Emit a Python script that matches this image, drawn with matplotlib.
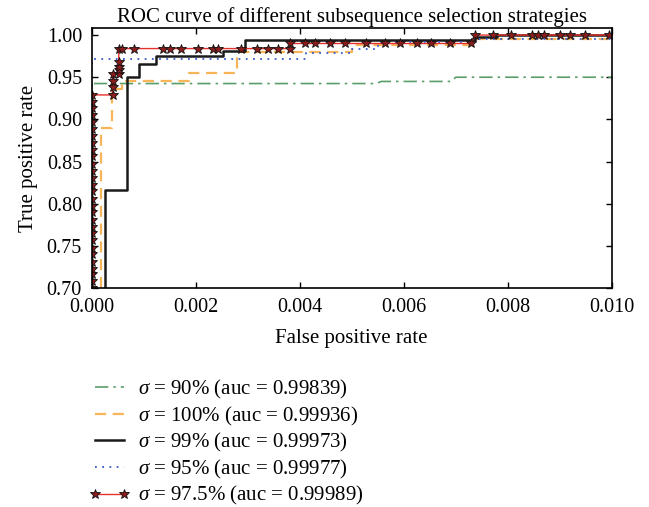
import numpy as np
import matplotlib
matplotlib.use("Agg")
import matplotlib.pyplot as plt

plt.rcParams["font.family"] = ["Liberation Serif", "DejaVu Serif"]
plt.rcParams["mathtext.fontset"] = "custom"
plt.rcParams["mathtext.it"] = "Liberation Serif:italic"
plt.rcParams["mathtext.rm"] = "Liberation Serif"

# ROC points (fpr, tpr)
fpr_90 = [0.0, 0.0, 0.00547, 0.00557, 0.00692, 0.00700, 0.0100]
tpr_90 = [0.70, 0.9425, 0.9425, 0.945, 0.945, 0.950, 0.950]

fpr_100 = [0.00017, 0.00017, 0.00039, 0.00039, 0.00059, 0.00059, 0.00188, 0.00188,
           0.0028, 0.0028, 0.0050, 0.0050, 0.0074, 0.0074, 0.0100]
tpr_100 = [0.70, 0.890, 0.890, 0.9365, 0.9365, 0.9452, 0.9452, 0.9552,
           0.9552, 0.9794, 0.9794, 0.988, 0.988, 0.995, 0.995]

fpr_99 = [0.00026, 0.00026, 0.00067, 0.00067, 0.00091, 0.00091, 0.00124, 0.00124,
          0.00253, 0.00253, 0.00294, 0.00294, 0.00737, 0.00737, 0.0078, 0.0078, 0.0100]
tpr_99 = [0.70, 0.816, 0.816, 0.950, 0.950, 0.966, 0.966, 0.975,
          0.975, 0.981, 0.981, 0.994, 0.994, 0.998, 0.998, 1.0, 1.0]

fpr_95 = [0.0, 0.0, 0.00412, 0.00412, 0.0050, 0.0050, 0.0055, 0.0055, 0.0074, 0.0074, 0.0100]
tpr_95 = [0.70, 0.972, 0.972, 0.979, 0.979, 0.983, 0.983, 0.992, 0.992, 0.995, 0.995]

fpr_975 = [0.0] * 29 + [
    0.00040, 0.00040, 0.00040, 0.00040,
    0.00052, 0.00052, 0.00052, 0.00052, 0.00052,
    0.00058, 0.00081, 0.00137, 0.00150, 0.00172, 0.00204, 0.00233, 0.00243,
    0.00288, 0.00317, 0.00339, 0.00358, 0.00381,
    0.00381, 0.00410, 0.00429, 0.00459, 0.00487, 0.00528, 0.00565, 0.00593,
    0.00626, 0.00653, 0.00690, 0.00730,
    0.00737, 0.00771, 0.00807, 0.00847, 0.00858, 0.00870, 0.00900, 0.00919,
    0.00949, 0.00995]
tpr_975 = [0.700, 0.708, 0.716, 0.722, 0.731, 0.740, 0.748, 0.757, 0.765, 0.772,
           0.781, 0.790, 0.797, 0.806, 0.815, 0.822, 0.830, 0.839, 0.847, 0.856,
           0.864, 0.872, 0.880, 0.889, 0.897, 0.905, 0.913, 0.921, 0.929] + [
    0.929, 0.938, 0.946, 0.954,
    0.954, 0.958, 0.962, 0.968, 0.984,
    0.984, 0.984, 0.984, 0.984, 0.984, 0.984, 0.984, 0.984,
    0.984, 0.984, 0.984, 0.984, 0.984,
    0.990, 0.990, 0.990, 0.990, 0.990, 0.990, 0.990, 0.990,
    0.990, 0.990, 0.990, 0.990,
    1.0, 1.0, 1.0, 1.0, 1.0, 1.0, 1.0, 1.0,
    1.0, 1.0]

labels = [r"$\sigma$ = 90% (auc = 0.99839)",
          r"$\sigma$ = 100% (auc = 0.99936)",
          r"$\sigma$ = 99% (auc = 0.99973)",
          r"$\sigma$ = 95% (auc = 0.99977)",
          r"$\sigma$ = 97.5% (auc = 0.99989)"]

fig = plt.figure(figsize=(6.49, 5.07), dpi=100)
ax = fig.add_axes([0.1413, 0.432, 0.8012, 0.5128])

ax.plot(fpr_90, tpr_90, color="#5a9e6a", linestyle=(0, (8, 3, 1.5, 3)), linewidth=1.2, label=labels[0])
ax.plot(fpr_100, tpr_100, color="#f7b55a", linestyle=(0, (5, 3)), linewidth=1.6, label=labels[1])
ax.plot(fpr_99, tpr_99, color="#1a1a1a", linestyle="-", linewidth=1.8, label=labels[2])
ax.plot(fpr_95, tpr_95, color="#3a5bd0", linestyle=(0, (1, 3)), linewidth=1.3, label=labels[3])
ax.plot(fpr_975, tpr_975, color="#e8302c", linestyle="-", linewidth=1.0,
        marker="*", markersize=7.5, markerfacecolor="#8b1c1c", markeredgecolor="#111111",
        markeredgewidth=0.6, label=labels[4])

ax.set_xlim(0, 0.010)
ax.set_ylim(0.70, 1.0084)
ax.set_xticks(np.arange(0, 0.0101, 0.002))
ax.set_yticks(np.arange(0.70, 1.001, 0.05))
ax.xaxis.set_major_formatter(matplotlib.ticker.FormatStrFormatter("%.3f"))
ax.yaxis.set_major_formatter(matplotlib.ticker.FormatStrFormatter("%.2f"))
ax.tick_params(direction="in", length=4, width=1, top=True, right=True,
               labelsize=14.5, pad=7)
for s in ax.spines.values():
    s.set_linewidth(1.2)

ax.set_title("ROC curve of different subsequence selection strategies", fontsize=15, pad=4)
ax.set_xlabel("False positive rate", fontsize=15, labelpad=9)
ax.set_ylabel("True positive rate", fontsize=15, labelpad=6)

fig.legend(loc="upper left", bbox_to_anchor=(0.12, 0.275), frameon=False, fontsize=15,
           handlelength=2.0, handletextpad=0.4, labelspacing=0.17, numpoints=2,
           borderpad=0)

fig.savefig("out.png", dpi=100)
